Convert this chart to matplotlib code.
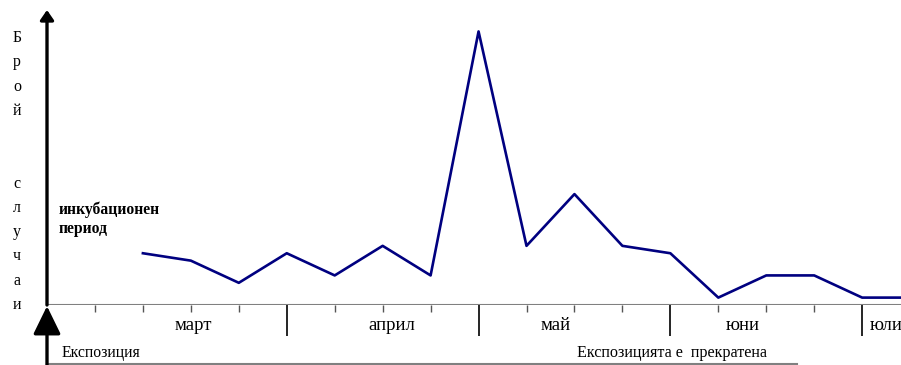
import matplotlib
matplotlib.use('Agg')
import matplotlib.pyplot as plt

plt.rcParams['font.family'] = ['Liberation Serif', 'DejaVu Serif']

# Брой случаи по седмици (позиция на седмицата по оста)
weeks = [2, 3, 4, 5, 6, 7, 8, 9, 10, 11, 12, 13, 14, 15, 16, 17, 18]
cases = [7, 6, 3, 7, 4, 8, 4, 37, 8, 15, 8, 7, 1, 4, 4, 1, 1]

month_ticks = [5, 9, 13, 17]
week_ticks = [1, 2, 3, 4, 6, 7, 8, 10, 11, 12, 14, 15, 16]
months = ['март', 'април', 'май', 'юни', 'юли']
month_pos = [3.05, 7.2, 10.6, 14.5, 17.15]
month_ha = ['center', 'center', 'center', 'center', 'left']

W, H = 901, 365
fig = plt.figure(figsize=(W / 100, H / 100), dpi=100)
ax = fig.add_axes([47 / W, 60 / H, (W - 47) / W, 295 / H])
ax.set_xlim(0, 17.81)
ax.set_ylim(0, 39.9)
for s in ax.spines.values():
    s.set_visible(False)
ax.set_yticks([])

# ос x със седмици и граници на месеци
ax.axhline(0, color='#808080', lw=1.5)
ax.set_xticks(month_ticks)
ax.set_xticks(week_ticks, minor=True)
ax.set_xticklabels([])
ax.tick_params(axis='x', which='major', direction='out', length=22, width=1.2, color='black')
ax.tick_params(axis='x', which='minor', direction='out', length=5, width=1.0, color='#555555')

ax.plot(weeks, cases, color='#000080', lw=1.9)

# вертикална ос със стрелка
ax.annotate('', xy=(0, 39.9), xytext=(0, 0), xycoords='data',
            arrowprops=dict(arrowstyle='-|>,head_length=0.58,head_width=0.4', lw=2.4,
                            color='black', mutation_scale=10, shrinkA=0, shrinkB=0),
            annotation_clip=False)

# стрелка за експозицията
ax.annotate('', xy=(0, -0.15), xytext=(0, -8.2), xycoords='data',
            arrowprops=dict(arrowstyle='-|>,head_length=0.86,head_width=0.42', lw=2.4,
                            color='black', mutation_scale=20, shrinkA=0, shrinkB=0),
            annotation_clip=False)

ax.plot([0, 15.64], [-7.95, -7.95], color='#808080', lw=1.5, clip_on=False)

for m, p, ha in zip(months, month_pos, month_ha):
    ax.text(p, -2.75, m, ha=ha, va='center', fontsize=13.5, clip_on=False)

ax.text(0.3, -6.5, 'Експозиция', ha='left', va='center', fontsize=11.3, clip_on=False)
ax.text(11.05, -6.5, 'Експозицията е  прекратена', ha='left', va='center', fontsize=11.6,
        clip_on=False)

ax.text(0.25, 11.6, 'инкубационен\nпериод', ha='left', va='center', fontsize=11.3,
        fontweight='bold', linespacing=1.3)

fig.text(17 / W, 1 - 171.5 / H, 'Б\nр\nо\nй\n\n\nс\nл\nу\nч\nа\nи', ha='center',
         va='center', fontsize=11.5, linespacing=1.69)

fig.savefig('out.png', dpi=100)
